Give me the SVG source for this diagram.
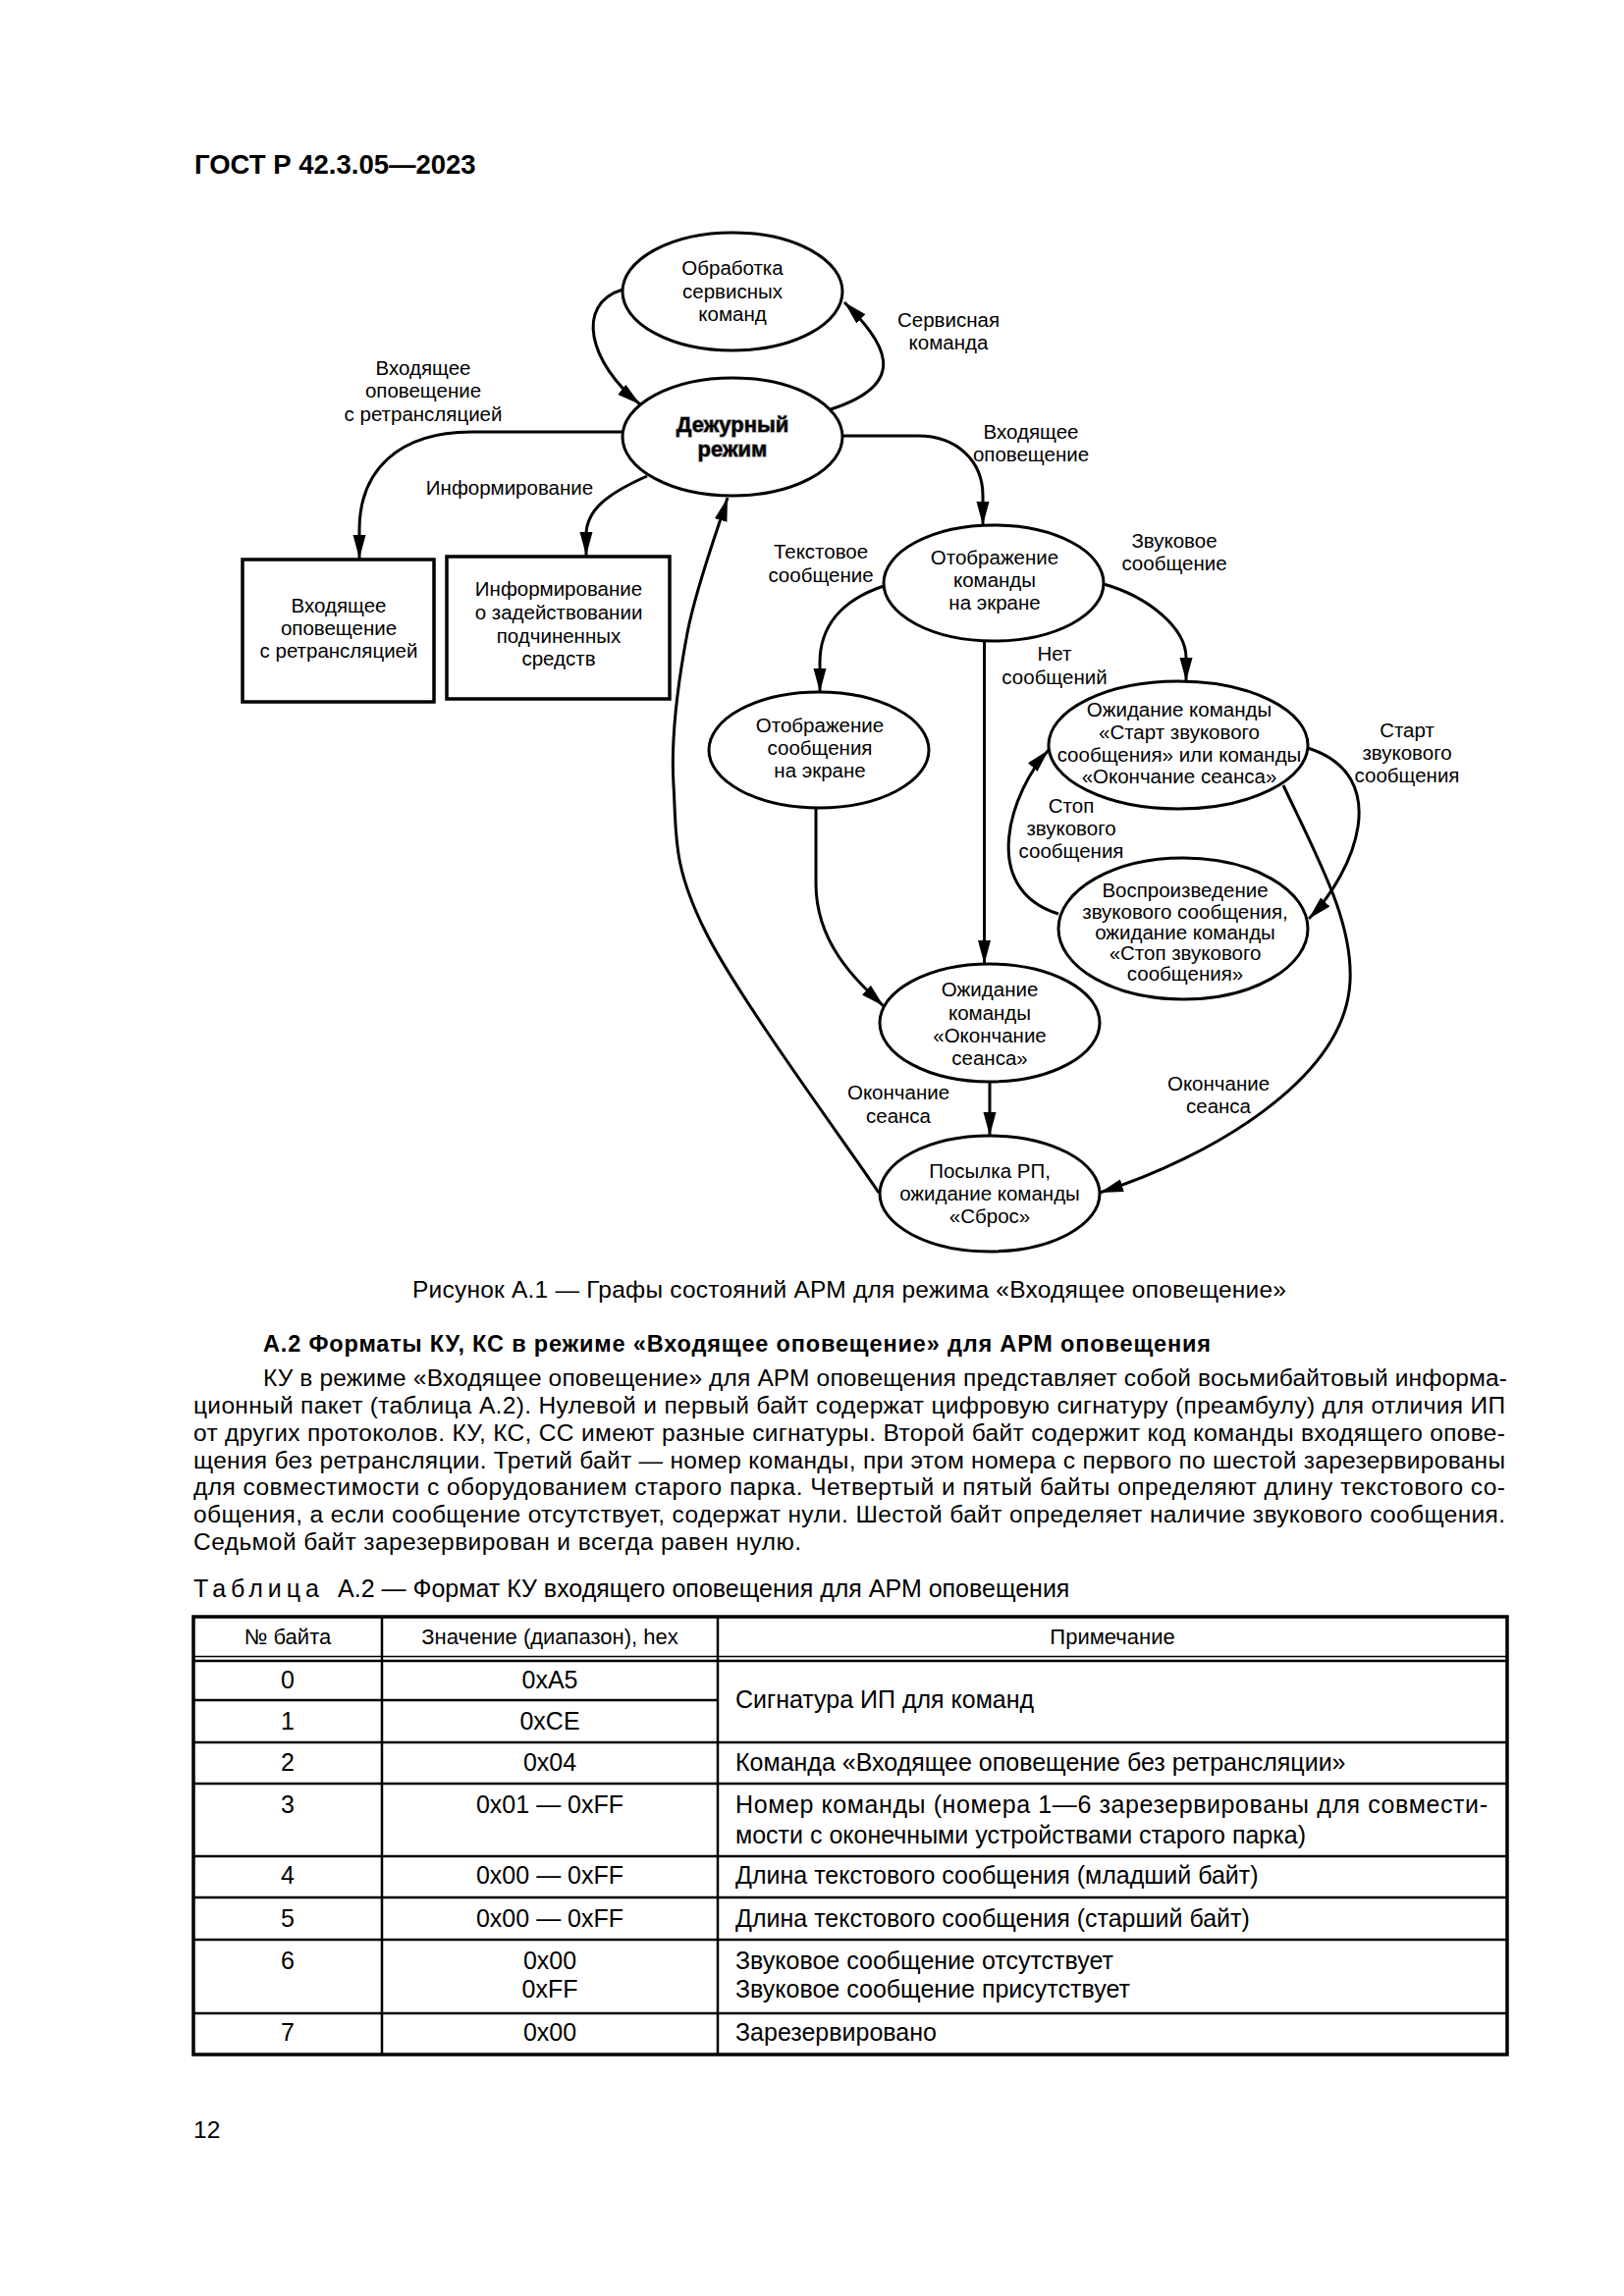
<svg xmlns="http://www.w3.org/2000/svg" width="1654" height="2339" viewBox="0 0 1654 2339">
<style>
text { font-family: "Liberation Sans", Arial, sans-serif; fill: #000; }
.t { font-size: 20.5px; text-anchor: middle; }
.bt { font-size: 22px; font-weight: bold; text-anchor: middle; stroke: #9a9a9a; stroke-width: 1.4px; paint-order: stroke; }
.n { fill: #fff; stroke: #000; stroke-width: 3; }
.bx { fill: #fff; stroke: #000; stroke-width: 3.5; }
.c { fill: none; stroke: #000; stroke-width: 3; marker-end: url(#ah); }
.p { font-size: 24.5px; }
.tb { font-size: 25px; }
.tbc { font-size: 25px; text-anchor: middle; }
.th { font-size: 22px; text-anchor: middle; }
.tl { stroke: #000; stroke-width: 2.5; }
.tlo { stroke: #000; stroke-width: 3.5; fill: none; }
</style>
<defs>
<marker id="ah" markerUnits="userSpaceOnUse" markerWidth="26" markerHeight="14" refX="24" refY="6.5" orient="auto">
<path d="M0,0 L24,6.5 L0,13 z" fill="#000"/>
</marker>
</defs>
<rect width="1654" height="2339" fill="#fff"/>

<text x="198" y="177" style="font-size:27.5px;font-weight:bold">ГОСТ Р 42.3.05—2023</text>

<g id="connectors">
<path class="c" d="M634,295 C585,310 600,370 652,412"/>
<path class="c" d="M846,417 C930,390 900,348 860,308"/>
<path class="c" d="M634,440 L480,440 C405,440 366,480 366,540 L366,569"/>
<path class="c" d="M659,485 C618,503 597,520 597,545 L597,566"/>
<path class="c" d="M857,444 L935,444 C975,444 1001,470 1001,505 L1001,535"/>
<path class="c" d="M900,597 C855,612 835,640 835,675 L835,705"/>
<path class="c" d="M1124,595 C1170,608 1208,640 1208,670 L1208,694"/>
<path class="c" d="M1002.5,653 L1002.5,982"/>
<path class="c" d="M831,823 L831,900 C831,960 870,997 900,1025"/>
<path class="c" d="M1332,762 C1420,790 1380,888 1333,936"/>
<path class="c" d="M1078,931 C995,905 1030,805 1068,764"/>
<path class="c" d="M1307,800 C1345,880 1378,940 1375,1000 C1370,1100 1230,1180 1120,1215"/>
<path class="c" d="M1008,1102 L1008,1157"/>
<path class="c" d="M895,1215 C865.7,1170.8 753.8,1019.2 719,950 C684.2,880.8 689.2,850.8 686,800 C682.8,749.2 690.8,693.8 700,645 C709.2,596.2 734.2,530 741,507"/>
</g>

<g id="labels">
<text class="t"><tspan x="966" y="333">Сервисная</tspan><tspan x="966" y="356">команда</tspan></text>
<text class="t"><tspan x="431" y="382">Входящее</tspan><tspan x="431" y="405">оповещение</tspan><tspan x="431" y="429">с ретрансляцией</tspan></text>
<text class="t" x="519" y="504">Информирование</text>
<text class="t"><tspan x="1050" y="447">Входящее</tspan><tspan x="1050" y="470">оповещение</tspan></text>
<text class="t"><tspan x="836" y="569">Текстовое</tspan><tspan x="836" y="593">сообщение</tspan></text>
<text class="t"><tspan x="1196" y="558">Звуковое</tspan><tspan x="1196" y="581">сообщение</tspan></text>
<text class="t"><tspan x="1074" y="673">Нет</tspan><tspan x="1074" y="697">сообщений</tspan></text>
<text class="t"><tspan x="1433" y="751">Старт</tspan><tspan x="1433" y="774">звукового</tspan><tspan x="1433" y="797">сообщения</tspan></text>
<text class="t"><tspan x="1091" y="828">Стоп</tspan><tspan x="1091" y="851">звукового</tspan><tspan x="1091" y="874">сообщения</tspan></text>
<text class="t"><tspan x="915" y="1120">Окончание</tspan><tspan x="915" y="1144">сеанса</tspan></text>
<text class="t"><tspan x="1241" y="1111">Окончание</tspan><tspan x="1241" y="1134">сеанса</tspan></text>
</g>

<g id="n-obrabotka">
<ellipse class="n" cx="746" cy="297" rx="112" ry="60"/>
<text class="t"><tspan x="746" y="280">Обработка</tspan><tspan x="746" y="304">сервисных</tspan><tspan x="746" y="327">команд</tspan></text>
</g>
<g id="n-dezhurny">
<ellipse class="n" cx="746" cy="445" rx="112" ry="60"/>
<text class="bt"><tspan x="746" y="440">Дежурный</tspan><tspan x="746" y="465">режим</tspan></text>
</g>
<g id="n-box1">
<rect class="bx" x="247" y="570" width="195" height="145"/>
<text class="t"><tspan x="345" y="624">Входящее</tspan><tspan x="345" y="647">оповещение</tspan><tspan x="345" y="670">с ретрансляцией</tspan></text>
</g>
<g id="n-box2">
<rect class="bx" x="455" y="567" width="227" height="145"/>
<text class="t"><tspan x="569" y="607">Информирование</tspan><tspan x="569" y="631">о задействовании</tspan><tspan x="569" y="655">подчиненных</tspan><tspan x="569" y="678">средств</tspan></text>
</g>
<g id="n-otobr-kom">
<ellipse class="n" cx="1012" cy="594" rx="112" ry="59"/>
<text class="t"><tspan x="1013" y="575">Отображение</tspan><tspan x="1013" y="598">команды</tspan><tspan x="1013" y="621">на экране</tspan></text>
</g>
<g id="n-otobr-soob">
<ellipse class="n" cx="834" cy="764" rx="112" ry="59"/>
<text class="t"><tspan x="835" y="746">Отображение</tspan><tspan x="835" y="769">сообщения</tspan><tspan x="835" y="792">на экране</tspan></text>
</g>
<g id="n-ozh-start">
<ellipse class="n" cx="1200" cy="759" rx="132" ry="65"/>
<text class="t"><tspan x="1201" y="730">Ожидание команды</tspan><tspan x="1201" y="753">«Старт звукового</tspan><tspan x="1201" y="776">сообщения» или команды</tspan><tspan x="1201" y="798">«Окончание сеанса»</tspan></text>
</g>
<g id="n-vospr">
<ellipse class="n" cx="1205" cy="946" rx="127" ry="72"/>
<text class="t"><tspan x="1207" y="914">Воспроизведение</tspan><tspan x="1207" y="936">звукового сообщения,</tspan><tspan x="1207" y="957">ожидание команды</tspan><tspan x="1207" y="978">«Стоп звукового</tspan><tspan x="1207" y="999">сообщения»</tspan></text>
</g>
<g id="n-ozh-okonch">
<ellipse class="n" cx="1008" cy="1042" rx="112" ry="60"/>
<text class="t"><tspan x="1008" y="1015">Ожидание</tspan><tspan x="1008" y="1039">команды</tspan><tspan x="1008" y="1062">«Окончание</tspan><tspan x="1008" y="1085">сеанса»</tspan></text>
</g>
<g id="n-posylka">
<ellipse class="n" cx="1008" cy="1216" rx="112" ry="59"/>
<text class="t"><tspan x="1008" y="1200">Посылка РП,</tspan><tspan x="1008" y="1223">ожидание команды</tspan><tspan x="1008" y="1246">«Сброс»</tspan></text>
</g>

<text x="865" y="1322" class="p" text-anchor="middle" textLength="890" lengthAdjust="spacing">Рисунок А.1 — Графы состояний АРМ для режима «Входящее оповещение»</text>

<text x="268" y="1377" style="font-size:23.5px;font-weight:bold" textLength="965" lengthAdjust="spacing">А.2 Форматы КУ, КС в режиме «Входящее оповещение» для АРМ оповещения</text>

<g id="paragraph">
<text class="p" x="268" y="1412" textLength="1267" lengthAdjust="spacing">КУ в режиме «Входящее оповещение» для АРМ оповещения представляет собой восьмибайтовый информа-</text>
<text class="p" x="197" y="1440" textLength="1336" lengthAdjust="spacing">ционный пакет (таблица А.2). Нулевой и первый байт содержат цифровую сигнатуру (преамбулу) для отличия ИП</text>
<text class="p" x="197" y="1468" textLength="1336" lengthAdjust="spacing">от других протоколов. КУ, КС, СС имеют разные сигнатуры. Второй байт содержит код команды входящего опове-</text>
<text class="p" x="197" y="1496" textLength="1336" lengthAdjust="spacing">щения без ретрансляции. Третий байт — номер команды, при этом номера с первого по шестой зарезервированы</text>
<text class="p" x="197" y="1523" textLength="1336" lengthAdjust="spacing">для совместимости с оборудованием старого парка. Четвертый и пятый байты определяют длину текстового со-</text>
<text class="p" x="197" y="1551" textLength="1336" lengthAdjust="spacing">общения, а если сообщение отсутствует, содержат нули. Шестой байт определяет наличие звукового сообщения.</text>
<text class="p" x="197" y="1579" textLength="619" lengthAdjust="spacing">Седьмой байт зарезервирован и всегда равен нулю.</text>
</g>

<text x="197" y="1627" style="font-size:25px"><tspan letter-spacing="5">Таблица</tspan><tspan dx="14">А.2 — Формат КУ входящего оповещения для АРМ оповещения</tspan></text>

<g id="table">
<rect class="tlo" x="197" y="1647" width="1338" height="446"/>
<line class="tl" x1="389" y1="1647" x2="389" y2="2093"/>
<line class="tl" x1="731" y1="1647" x2="731" y2="2093"/>
<line stroke="#000" stroke-width="1.3" x1="197" y1="1687.5" x2="1535" y2="1687.5"/>
<line class="tl" x1="197" y1="1692" x2="1535" y2="1692"/>
<line class="tl" x1="197" y1="1732" x2="731" y2="1732"/>
<line class="tl" x1="197" y1="1775" x2="1535" y2="1775"/>
<line class="tl" x1="197" y1="1817" x2="1535" y2="1817"/>
<line class="tl" x1="197" y1="1891" x2="1535" y2="1891"/>
<line class="tl" x1="197" y1="1933" x2="1535" y2="1933"/>
<line class="tl" x1="197" y1="1976" x2="1535" y2="1976"/>
<line class="tl" x1="197" y1="2051" x2="1535" y2="2051"/>
<text class="th" x="293" y="1675">№ байта</text>
<text class="th" x="560" y="1675">Значение (диапазон), hex</text>
<text class="th" x="1133" y="1675">Примечание</text>
<text class="tbc" x="293" y="1720">0</text>
<text class="tbc" x="560" y="1720">0xA5</text>
<text class="tbc" x="293" y="1762">1</text>
<text class="tbc" x="560" y="1762">0xCE</text>
<text class="tb" x="749" y="1740">Сигнатура ИП для команд</text>
<text class="tbc" x="293" y="1804">2</text>
<text class="tbc" x="560" y="1804">0x04</text>
<text class="tb" x="749" y="1804">Команда «Входящее оповещение без ретрансляции»</text>
<text class="tbc" x="293" y="1847">3</text>
<text class="tbc" x="560" y="1847">0x01 — 0xFF</text>
<text class="tb" x="749" y="1847" textLength="766" lengthAdjust="spacing">Номер команды (номера 1—6 зарезервированы для совмести-</text>
<text class="tb" x="749" y="1878">мости с оконечными устройствами старого парка)</text>
<text class="tbc" x="293" y="1919">4</text>
<text class="tbc" x="560" y="1919">0x00 — 0xFF</text>
<text class="tb" x="749" y="1919">Длина текстового сообщения (младший байт)</text>
<text class="tbc" x="293" y="1963">5</text>
<text class="tbc" x="560" y="1963">0x00 — 0xFF</text>
<text class="tb" x="749" y="1963">Длина текстового сообщения (старший байт)</text>
<text class="tbc" x="293" y="2006">6</text>
<text class="tbc" x="560" y="2006">0x00</text>
<text class="tbc" x="560" y="2035">0xFF</text>
<text class="tb" x="749" y="2006">Звуковое сообщение отсутствует</text>
<text class="tb" x="749" y="2035">Звуковое сообщение присутствует</text>
<text class="tbc" x="293" y="2079">7</text>
<text class="tbc" x="560" y="2079">0x00</text>
<text class="tb" x="749" y="2079">Зарезервировано</text>
</g>

<text class="p" x="197" y="2178">12</text>
</svg>
